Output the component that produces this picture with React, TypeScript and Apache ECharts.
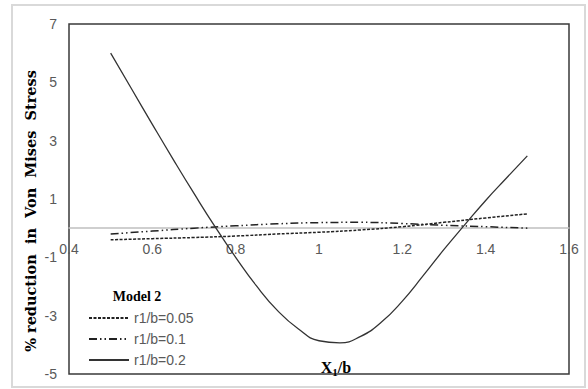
import React, { useEffect, useRef } from "react";
import * as echarts from "echarts";

const xSolid = [0.5, 0.55, 0.6, 0.65, 0.7, 0.75, 0.8, 0.85, 0.9, 0.95, 1.0, 1.05, 1.1, 1.15, 1.2, 1.25, 1.3, 1.35, 1.4, 1.45, 1.5];
const r02 = [6.0, 4.78, 3.56, 2.36, 1.19, 0.06, -1.0, -1.98, -2.82, -3.45, -3.86, -3.93, -3.71, -3.22, -2.5, -1.63, -0.73, 0.12, 0.95, 1.72, 2.48];
const xLin = [0.5, 0.6, 0.7, 0.8, 0.9, 1.0, 1.1, 1.2, 1.3, 1.4, 1.5];
const r005 = [-0.4, -0.36, -0.32, -0.27, -0.2, -0.14, -0.06, 0.05, 0.2, 0.35, 0.49];
const r01 = [-0.2, -0.1, 0.0, 0.08, 0.15, 0.19, 0.2, 0.16, 0.1, 0.05, 0.0];
const seriesNames = ["r1/b=0.05", "r1/b=0.1", "r1/b=0.2"];
const legendTitle = "Model 2";
const yTitle = "% reduction  in  Von  Mises  Stress";
const yMin = -5;
const yMax = 7;

const serif = "Liberation Serif";
const sans = "Liberation Sans";

const pair = (xs: number[], ys: number[]) => xs.map((x, i) => [x, ys[i]]);

const W = 588;
const H = 389;
const gridTop = 24;
const gridBottom = 15;
const gridH = H - gridTop - gridBottom;
const zeroOffset = -gridH * (0 - yMin) / (yMax - yMin);

export default function App() {
  const ref = useRef<HTMLDivElement>(null);
  useEffect(() => {
    if (!ref.current) return;
    const chart = echarts.init(ref.current, null, { renderer: "svg" });
    chart.setOption({
      animation: false,
      backgroundColor: "#ffffff",
      grid: {
        left: 69,
        top: gridTop,
        right: 19,
        bottom: gridBottom,
        show: true,
        borderColor: "#3a3a3a",
        borderWidth: 1.5,
        containLabel: false,
        outerBoundsMode: "none",
      },
      xAxis: {
        type: "value",
        min: 0.4,
        max: 1.6,
        interval: 0.2,
        offset: zeroOffset,
        axisLine: { show: true, onZero: false, lineStyle: { color: "#c0c0c0", width: 1.5 } },
        axisTick: { show: false },
        splitLine: { show: false },
        axisLabel: { color: "#595959", fontSize: 14, fontFamily: sans, margin: 14 },
      },
      yAxis: {
        type: "value",
        min: yMin,
        max: yMax,
        interval: 1,
        axisLine: { show: false },
        axisTick: { show: false },
        splitLine: { show: false },
        axisLabel: {
          color: "#595959",
          fontSize: 14,
          fontFamily: sans,
          margin: 12,
          formatter: (v: number) => (Math.round(v) % 2 !== 0 ? String(v) : ""),
        },
      },
      legend: {
        orient: "vertical",
        left: 88,
        top: 311,
        itemWidth: 40,
        itemHeight: 14,
        itemGap: 7,
        padding: 0,
        data: seriesNames,
        itemStyle: { opacity: 0 },
        textStyle: { color: "#595959", fontSize: 14, fontFamily: sans },
      },
      series: [
        {
          name: seriesNames[0],
          type: "line",
          data: pair(xLin, r005),
          smooth: true,
          symbol: "none",
          lineStyle: { color: "#222", width: 1.5, type: [3, 1.5] },
          itemStyle: { color: "#222" },
        },
        {
          name: seriesNames[1],
          type: "line",
          data: pair(xLin, r01),
          smooth: true,
          symbol: "none",
          lineStyle: { color: "#222", width: 1.5, type: [8, 3, 1.5, 3, 1.5, 3] },
          itemStyle: { color: "#222" },
        },
        {
          name: seriesNames[2],
          type: "line",
          data: pair(xSolid, r02),
          smooth: true,
          symbol: "none",
          lineStyle: { color: "#333", width: 1.3, type: "solid" },
          itemStyle: { color: "#333" },
        },
      ],
      graphic: [
        {
          type: "rect",
          shape: { x: 12, y: 5, width: 573, height: 382 },
          style: { fill: "none", stroke: "#d9d9d9", lineWidth: 2 },
          silent: true,
        },
        {
          type: "text",
          x: 30,
          y: 211,
          rotation: Math.PI / 2,
          style: {
            text: yTitle,
            fontFamily: "DejaVu Serif",
            fontWeight: "bold",
            fontSize: 14.5,
            fill: "#000",
            align: "center",
            verticalAlign: "middle",
          },
        },
        {
          type: "text",
          x: 336,
          y: 367,
          style: {
            text: "{a|X}{s|1}{a|/b}",
            align: "center",
            verticalAlign: "middle",
            rich: {
              a: { fontFamily: serif, fontWeight: "bold", fontSize: 16, fill: "#000" },
              s: { fontFamily: serif, fontWeight: "bold", fontSize: 11, fill: "#000", padding: [9, 0, 0, 0] },
            },
          },
        },
        {
          type: "text",
          x: 137,
          y: 296,
          style: {
            text: legendTitle,
            fontFamily: serif,
            fontWeight: "bold",
            fontSize: 14,
            fill: "#000",
            align: "center",
            verticalAlign: "middle",
          },
        },
      ],
    });
    return () => chart.dispose();
  }, []);
  return (
    <div
      ref={ref}
      style={{ position: "fixed", left: 0, top: 0, width: W, height: H }}
    />
  );
}
